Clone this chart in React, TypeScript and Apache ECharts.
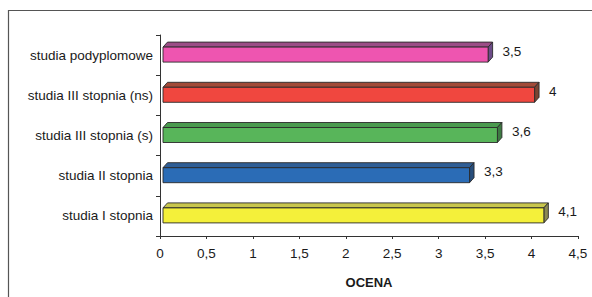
import React, { useEffect, useRef } from "react";
import * as echarts from "echarts";

const categories = [
  "studia I stopnia",
  "studia II stopnia",
  "studia III stopnia (s)",
  "studia III stopnia (ns)",
  "studia podyplomowe",
];
const values = [4.1, 3.3, 3.6, 4, 3.5];
const frontColors = ["#F4F03A", "#2B6CB6", "#58B55A", "#F0473F", "#EE55B0"];
const topColors = ["#C8C64C", "#2F5E96", "#4A9A4E", "#A24A38", "#9C4D86"];
const sideColors = ["#8C8A52", "#284E7C", "#3D7A42", "#7A4432", "#6C4C88"];
const xTicks = ["0", "0,5", "1", "1,5", "2", "2,5", "3", "3,5", "4", "4,5"];
const axisTitle = "OCENA";

const fmt = (v: number) => String(v).replace(".", ",");

export default function App() {
  const ref = useRef<HTMLDivElement>(null);
  useEffect(() => {
    if (!ref.current) return;
    const chart = echarts.init(ref.current, null, { renderer: "svg" });
    const FONT = "Liberation Sans, Arial, sans-serif";
    const option: any = {
      animation: false,
      backgroundColor: "#ffffff",
      textStyle: { fontFamily: FONT },
      grid: { left: 160, right: 14, top: 35, bottom: 61 },
      graphic: [
        {
          type: "rect",
          shape: { x: 8.5, y: 10.5, width: 640, height: 320 },
          style: { fill: "none", stroke: "#555", lineWidth: 1.2 },
          silent: true,
        },
      ],
      xAxis: {
        type: "value",
        min: 0,
        max: 4.5,
        interval: 0.5,
        name: axisTitle,
        nameLocation: "middle",
        nameGap: 40,
        nameTextStyle: { fontFamily: FONT, fontSize: 13, fontWeight: "bold", color: "#1a1a1a" },
        axisLine: { show: true, lineStyle: { color: "#333", width: 1 } },
        axisTick: { show: true, length: 3, lineStyle: { color: "#333" } },
        axisLabel: {
          fontFamily: FONT,
          fontSize: 13.5,
          color: "#1a1a1a",
          margin: 10,
          formatter: (v: number) => xTicks[Math.round(v / 0.5)] ?? fmt(v),
        },
        splitLine: { show: false },
      },
      yAxis: {
        type: "category",
        data: categories,
        axisLine: { show: true, lineStyle: { color: "#333", width: 1 } },
        axisTick: { show: true, length: 4, lineStyle: { color: "#333" } },
        axisLabel: { fontFamily: FONT, fontSize: 13.5, color: "#1a1a1a", margin: 7 },
      },
      series: [
        {
          type: "custom",
          clip: false,
          data: values.map((v, i) => [v, i]),
          encode: { x: 0, y: 1 },
          renderItem: (params: any, api: any) => {
            const v = api.value(0);
            const i = api.value(1);
            const p0 = api.coord([0, i]);
            const p1 = api.coord([v, i]);
            const off = 3;
            const dx = 4.5;
            const dy = -5;
            const x0 = p0[0] + off;
            const x1 = p1[0] + off;
            const cy = p0[1];
            const yt = cy - 8;
            const yb = cy + 7;
            const stroke = "#2a2a2a";
            return {
              type: "group",
              children: [
                {
                  type: "polygon",
                  shape: { points: [[x0, yt], [x1, yt], [x1 + dx, yt + dy], [x0 + dx, yt + dy]] },
                  style: { fill: topColors[i], stroke, lineWidth: 0.9 },
                },
                {
                  type: "polygon",
                  shape: { points: [[x1, yt], [x1 + dx, yt + dy], [x1 + dx, yb + dy], [x1, yb]] },
                  style: { fill: sideColors[i], stroke, lineWidth: 0.9 },
                },
                {
                  type: "rect",
                  shape: { x: x0, y: yt, width: x1 - x0, height: yb - yt },
                  style: { fill: frontColors[i], stroke, lineWidth: 0.9 },
                },
                {
                  type: "text",
                  style: {
                    x: x1 + dx + 10,
                    y: cy - 4,
                    text: fmt(v),
                    fill: "#1a1a1a",
                    font: "13.5px " + FONT,
                    textAlign: "left",
                    textVerticalAlign: "middle",
                  },
                },
              ],
            };
          },
        },
      ],
    };
    chart.setOption(option);
    return () => chart.dispose();
  }, []);
  return (
    <div
      ref={ref}
      style={{ position: "absolute", left: 0, top: 0, width: 592, height: 297 }}
    />
  );
}
